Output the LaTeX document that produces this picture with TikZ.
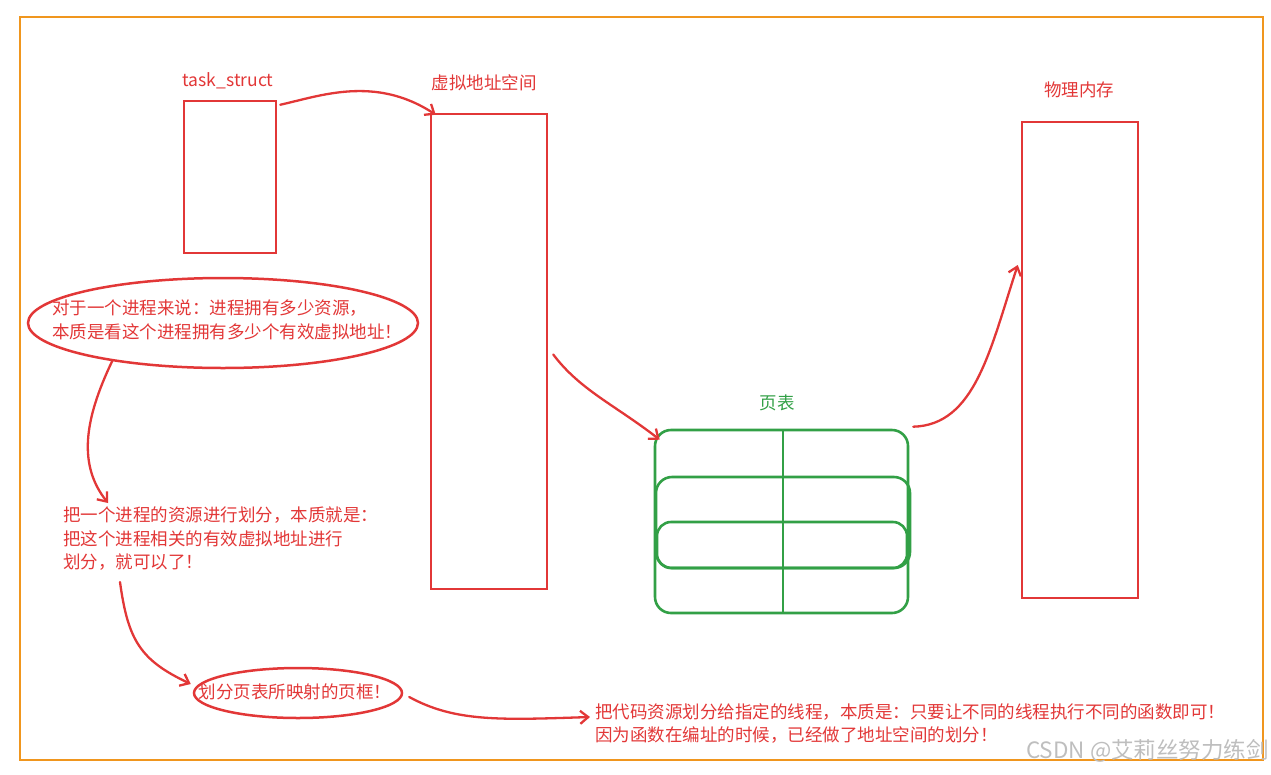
\documentclass[tikz,border=0pt]{standalone}
\usepackage{fontspec}
\setmainfont{Noto Sans CJK SC}
\usetikzlibrary{arrows.meta,shapes.geometric,calc}
\definecolor{rd}{RGB}{226,55,55}
\definecolor{gr}{RGB}{50,160,70}
\definecolor{org}{RGB}{240,150,30}
\definecolor{wm}{RGB}{190,190,190}
\begin{document}
\begin{tikzpicture}[x=1pt,y=-1pt,
  rbox/.style={draw=rd, line width=2.5pt, inner sep=0pt},
  oval/.style={draw=rd, line width=2.5pt, ellipse, inner sep=0pt},
  lbl/.style={text=rd, font=\fontsize{17.5}{23.5}\selectfont, inner sep=0pt},
  glbl/.style={text=gr, font=\fontsize{17.5}{23.5}\selectfont, inner sep=0pt},
  arr/.style={draw=rd, line width=2.3pt, line cap=round, -{Straight Barb[length=8pt,width=13pt,line width=2.3pt]}},
  grn/.style={draw=gr, line width=2.6pt},
]
\useasboundingbox (0,0) rectangle (1271,774);
\node[draw=org, line width=2.2pt, minimum width=1243, minimum height=743, inner sep=0pt] (frame) at (641.5,388.5) {};

% boxes
\node[rbox, minimum width=92, minimum height=152] (ts) at (230,177) {};
\node[rbox, minimum width=116, minimum height=475] (vas) at (489,351.5) {};
\node[rbox, minimum width=116, minimum height=476] (pm) at (1080,360) {};

% labels
\node[lbl] (tsl) at (228,81) {task\_struct};
\node[lbl] (vasl) at (484,83) {虚拟地址空间};
\node[lbl] (pml) at (1079,90) {物理内存};
\node[glbl] (ptl) at (777,403) {页表};

% page table
\node[grn, rounded corners=16, minimum width=253, minimum height=183, inner sep=0pt] (pt) at (781.5,521.5) {};
\draw[grn, rounded corners=16] (656,568) -- (656,477) -- (910,477) -- (910,568) -- cycle;
\draw[grn, rounded corners=14] (657,522) rectangle (907,568);
\draw[grn] (783,430) -- (783,613);

% ellipses and texts
\node[oval, minimum width=390, minimum height=90] (e1) at (223,323) {};
\node[lbl, align=left, anchor=north west] (t1) at (52,300) {对于一个进程来说：进程拥有多少资源，\\本质是看这个进程拥有多少个有效虚拟地址！};
\node[lbl, align=left, anchor=north west] (t2) at (63,507) {把一个进程的资源进行划分，本质就是：\\把这个进程相关的有效虚拟地址进行\\划分，就可以了！};
\node[oval, minimum width=208, minimum height=50] (e2) at (298,693) {};
\node[lbl] (t3) at (295,692) {划分页表所映射的页框！};
\node[lbl, align=left, anchor=north west] (t4) at (595,703) {把代码资源划分给指定的线程，本质是：只要让不同的线程执行不同的函数即可！\\因为函数在编址的时候，已经做了地址空间的划分！};

% watermark
\node[text=wm, font=\fontsize{22.5}{24}\selectfont, inner sep=0pt, anchor=east] (wmk) at (1269,751) {CSDN @艾莉丝努力练剑};

% connectors
\draw[arr] ($(ts.north east)+(3,5)$) .. controls (320,96) and (375,75) .. ($(vas.north west)+(6,2)$);
\draw[arr] ($(vas.east)+(5,3)$) .. controls (580,390) and (615,405) .. ($(pt.north west)+(6,11)$);
\draw[arr] ($(pt.north east)+(4,-2)$) .. controls (975,425) and (990,350) .. ($(pm.west)+(-3,-95)$);
\draw[arr] (e1.-161) .. controls (84,420) and (78,465) .. ($(t2.north west)+(45,-4)$);
\draw[arr] ($(t2.south west)+(57,11)$) .. controls (128,640) and (140,660) .. ($(e2.west)+(-2,-9)$);
\draw[arr] ($(e2.east)+(6,4)$) .. controls (455,722) and (500,720) .. ($(t4.north west)+(-5,14)$);
\end{tikzpicture}
\end{document}
